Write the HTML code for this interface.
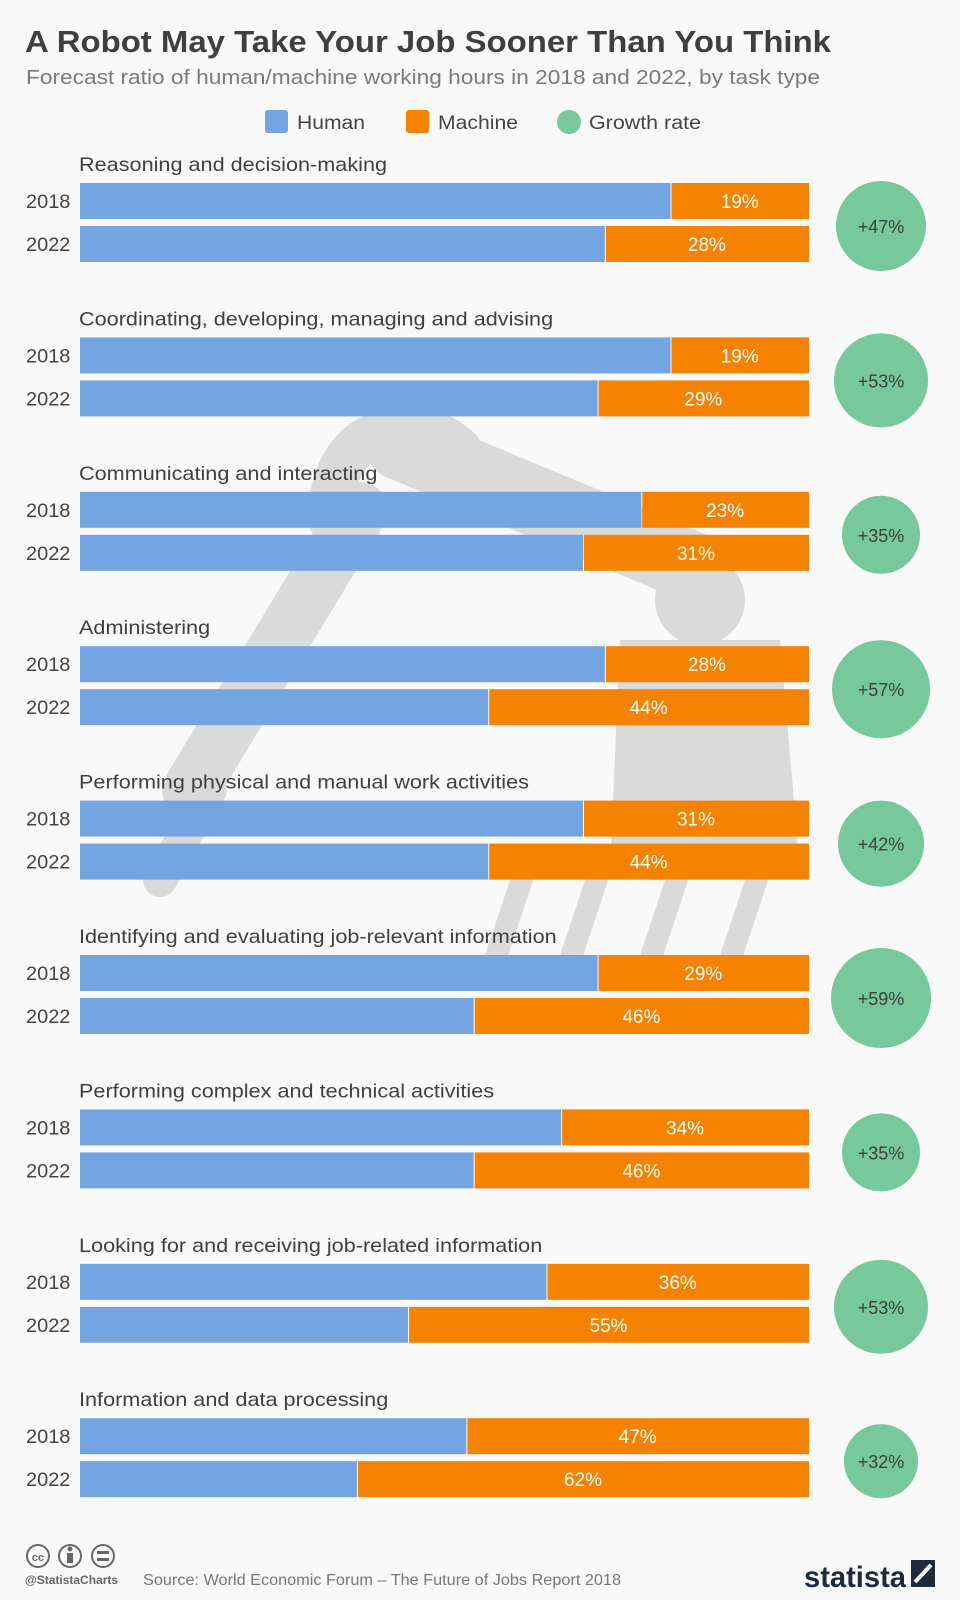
<!DOCTYPE html>
<html><head><meta charset="utf-8"><style>
html,body{margin:0;padding:0;background:#f9f9f9;}
svg{display:block;}
text{font-family:"Liberation Sans",sans-serif;}
</style></head><body>
<svg width="960" height="1600" viewBox="0 0 960 1600" xmlns="http://www.w3.org/2000/svg">
<rect width="960" height="1600" fill="#f9f9f9"/>
<!-- robot background -->
<g fill="none" stroke="#dadada" stroke-linecap="round">
<path d="M330 520 C 330 420 420 410 460 450" stroke-width="44"/>
<path d="M400 445 L 700 570" stroke-width="70"/>
<path d="M360 510 L 190 790" stroke-width="56"/>
<circle cx="700" cy="600" r="45" fill="#dadada" stroke="none"/>
<path d="M210 790 L 160 880" stroke-width="34"/>
</g>
<path d="M620 640 L 780 640 L 800 870 L 610 870 Z" fill="#dadada"/>
<g stroke="#dadada" stroke-width="22">
<line x1="525" y1="870" x2="495" y2="960"/><line x1="600" y1="870" x2="570" y2="960"/>
<line x1="680" y1="870" x2="650" y2="960"/><line x1="760" y1="870" x2="730" y2="960"/>
</g>
<text x="25" y="52" font-size="31" font-weight="bold" fill="#3f3f3f" textLength="806" lengthAdjust="spacingAndGlyphs">A Robot May Take Your Job Sooner Than You Think</text>
<text x="26" y="84" font-size="20" fill="#7a7a7a" textLength="794" lengthAdjust="spacingAndGlyphs">Forecast ratio of human/machine working hours in 2018 and 2022, by task type</text>
<rect x="265" y="110" width="23" height="23" rx="3" fill="#74a5e3"/>
<text x="297" y="129" font-size="19" fill="#444" textLength="68" lengthAdjust="spacingAndGlyphs">Human</text>
<rect x="406" y="110" width="23" height="23" rx="3" fill="#f58200"/>
<text x="438" y="129" font-size="19" fill="#444" textLength="80" lengthAdjust="spacingAndGlyphs">Machine</text>
<circle cx="569" cy="122" r="12" fill="#77c89a"/>
<text x="589" y="129" font-size="19" fill="#444" textLength="112" lengthAdjust="spacingAndGlyphs">Growth rate</text>
<g id="groups"></g>
<!-- footer -->
<g fill="none" stroke="#666" stroke-width="2">
<circle cx="38" cy="1556" r="11"/><circle cx="70" cy="1556" r="11"/><circle cx="103" cy="1556" r="11"/>
</g>
<text x="38" y="1561" font-size="11" font-weight="bold" fill="#666" text-anchor="middle">cc</text>
<rect x="67" y="1553" width="6" height="10" fill="#666"/><circle cx="70" cy="1549" r="2.5" fill="#666"/>
<rect x="97" y="1551" width="12" height="3" fill="#666"/><rect x="97" y="1558" width="12" height="3" fill="#666"/>
<text x="25" y="1584" font-size="12" font-weight="bold" fill="#666">@StatistaCharts</text>
<text x="143" y="1585" font-size="16" fill="#777" textLength="478" lengthAdjust="spacingAndGlyphs">Source: World Economic Forum – The Future of Jobs Report 2018</text>
<text x="804" y="1587" font-size="30" font-weight="bold" fill="#1d2b3e" textLength="102" lengthAdjust="spacingAndGlyphs">statista</text>
<rect x="911" y="1560" width="24" height="27" fill="#1d2b3e"/>
<path d="M915 1582 L 931 1565" stroke="#f9f9f9" stroke-width="4"/>
</svg>
<script>
const data=[
["Reasoning and decision-making",19,28,47,45],
["Coordinating, developing, managing and advising",19,29,53,47],
["Communicating and interacting",23,31,35,39],
["Administering",28,44,57,49],
["Performing physical and manual work activities",31,44,42,43],
["Identifying and evaluating job-relevant information",29,46,59,50],
["Performing complex and technical activities",34,46,35,39],
["Looking for and receiving job-related information",36,55,53,47],
["Information and data processing",47,62,32,37]];
const ns="http://www.w3.org/2000/svg",g=document.getElementById("groups");
function el(t,a,txt){const e=document.createElementNS(ns,t);for(const k in a)e.setAttribute(k,a[k]);if(txt)e.textContent=txt;g.appendChild(e);return e;}
function stretch(e,f){const w=e.getComputedTextLength();e.setAttribute("textLength",w*f);e.setAttribute("lengthAdjust","spacingAndGlyphs");}
const L=80,W=729;
data.forEach((d,i)=>{
 const o=154.4*i;
 const t=el("text",{x:79,y:171+o,"font-size":19.5,fill:"#3f3f3f"},d[0]);stretch(t,1.11);
 [[d[1],"2018",183],[d[2],"2022",226]].forEach(([m,yr,y])=>{
  y+=o;const sx=L+W*(1-m/100);
  el("rect",{x:L,y:y,width:sx-L,height:36,fill:"#74a5e3"});
  el("rect",{x:sx+1,y:y,width:L+W-sx-1,height:36,fill:"#f58200"});
  el("text",{x:(sx+L+W)/2,y:y+25,"font-size":19,fill:"#fff","text-anchor":"middle"},m+"%");
  const yt=el("text",{x:26,y:y+25,"font-size":19,fill:"#444"},yr);stretch(yt,1.05);
 });
 el("circle",{cx:881,cy:226+o,r:d[4],fill:"#77c89a"});
 el("text",{x:881,y:233+o,"font-size":18,fill:"#3f3f3f","text-anchor":"middle"},"+"+d[3]+"%");
});
</script>
</body></html>
